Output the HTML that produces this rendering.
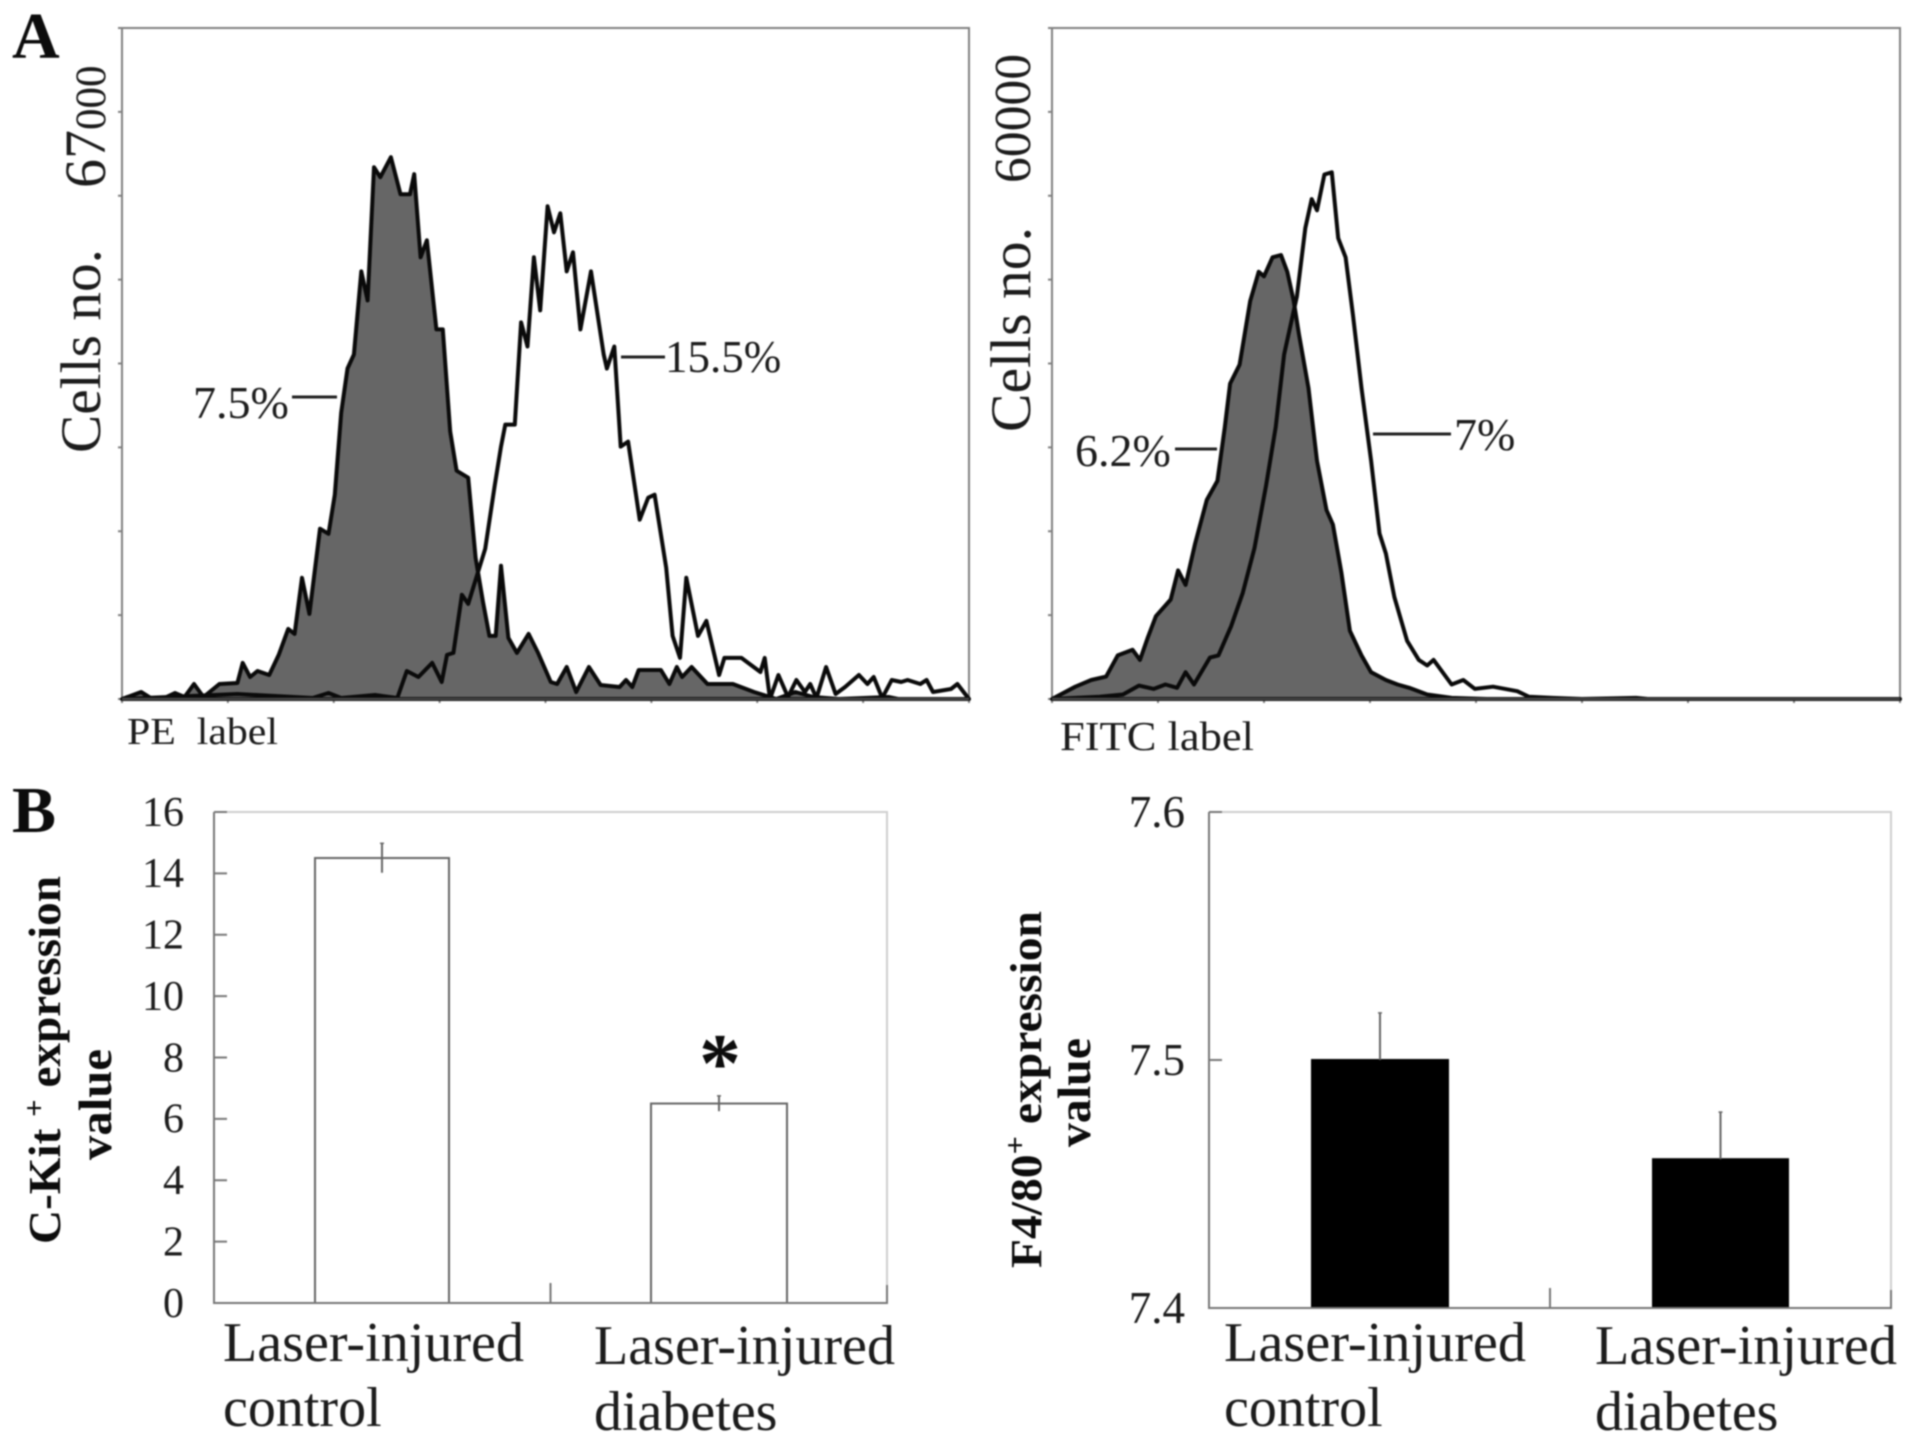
<!DOCTYPE html>
<html lang="en">
<head>
<meta charset="utf-8">
<title>Flow cytometry histograms and expression bars</title>
<style>
html,body{margin:0;padding:0;background:#fff;}
svg{display:block;filter:blur(0.7px);}
text{font-family:"Liberation Serif",serif;fill:#1c1c1c;white-space:pre;}
.bold{font-weight:bold;fill:#0c0c0c;}
</style>
</head>
<body>
<svg id="figure" xmlns="http://www.w3.org/2000/svg" width="1913" height="1443" viewBox="0 0 1913 1443">
  <rect x="0" y="0" width="1913" height="1443" fill="#fff"/>
  <g id="pe-plot"></g>
  <g id="fitc-plot"></g>
  <g id="ckit-plot"></g>
  <g id="f480-plot"></g>

  <text class="bold" x="12" y="58" font-size="66">A</text>
  <text class="bold" x="12" y="832" font-size="66">B</text>

  <text transform="translate(100,453) rotate(-90)" font-size="57" textLength="204" lengthAdjust="spacingAndGlyphs">Cells no.</text>
  <text transform="translate(105,188) rotate(-90)" font-size="58">67<tspan font-size="43">000</tspan></text>
  <text x="127" y="744" font-size="38" textLength="151" lengthAdjust="spacingAndGlyphs">PE  label</text>
  <text x="193" y="418" font-size="46">7.5%</text>
  <text x="665" y="372" font-size="45">15.5%</text>

  <text transform="translate(1030,432) rotate(-90)" font-size="57" textLength="205" lengthAdjust="spacingAndGlyphs">Cells no.</text>
  <text transform="translate(1030,183) rotate(-90)" font-size="52" textLength="129" lengthAdjust="spacingAndGlyphs">60000</text>
  <text x="1060" y="750" font-size="41" textLength="194" lengthAdjust="spacingAndGlyphs">FITC label</text>
  <text x="1075" y="466" font-size="46">6.2%</text>
  <text x="1454" y="450" font-size="46">7%</text>

  <text class="bold" transform="translate(60,1244) rotate(-90)" font-size="46" textLength="368" lengthAdjust="spacingAndGlyphs">C-Kit <tspan font-size="30" dy="-16">+</tspan><tspan dy="16"> expression</tspan></text>
  <text class="bold" transform="translate(111,1160) rotate(-90)" font-size="47" textLength="111" lengthAdjust="spacingAndGlyphs">value</text>
  <text class="bold" x="699" y="1091" font-size="84">*</text>
  <text font-size="56"><tspan x="223" y="1361" textLength="301" lengthAdjust="spacingAndGlyphs">Laser-injured</tspan><tspan x="223" y="1426">control</tspan></text>
  <text font-size="56"><tspan x="594" y="1364" textLength="301" lengthAdjust="spacingAndGlyphs">Laser-injured</tspan><tspan x="594" y="1430">diabetes</tspan></text>

  <text class="bold" transform="translate(1041,1268) rotate(-90)" font-size="44" textLength="357" lengthAdjust="spacingAndGlyphs">F4/80<tspan font-size="30" dy="-16">+</tspan><tspan dy="16"> expression</tspan></text>
  <text class="bold" transform="translate(1090,1147) rotate(-90)" font-size="47" textLength="109" lengthAdjust="spacingAndGlyphs">value</text>
  <text font-size="56"><tspan x="1224" y="1361" textLength="302" lengthAdjust="spacingAndGlyphs">Laser-injured</tspan><tspan x="1224" y="1426">control</tspan></text>
  <text font-size="56"><tspan x="1595" y="1364" textLength="302" lengthAdjust="spacingAndGlyphs">Laser-injured</tspan><tspan x="1595" y="1430">diabetes</tspan></text>
</svg>
<script>
// PE histogram: channel (0-800) and count (thousands)
const peFilledChannels = [0,18,27,38,50,59,68,77,92,109,114,121,128,139,148,157,163,170,177,187,195,201,207,213,219,226,232,238,244,254,263,272,276,282,288,297,303,310,316,327,334,341,347,353,358,365,373,384,393,405,411,420,429,441,452,470,476,482,488,509,517,524,529,538,553,577,597,618,636,653,677,724,733,800];
const peFilledCounts = [0,0.7,0.1,0,0.6,0.2,1.5,0.2,1.5,1.6,3.6,2.2,2.8,2.4,4.4,7.0,6.5,12.1,8.5,17.0,16.5,20.4,28.6,33.0,34.4,42.7,39.8,53.1,52.1,54.1,50.4,50.4,52.4,44.1,45.8,36.9,36.9,26.7,22.8,22.1,14.1,9.7,6.3,6.3,13.3,6.1,4.6,6.5,4.6,1.7,1.5,3.2,0.7,3.2,1.4,1.2,1.9,1.2,2.9,2.9,1.5,3.2,2.2,3.2,1.5,1.5,0.7,0,0.7,0.2,0,0.2,0,0];
const peOpenChannels = [0,109,180,195,207,239,260,269,280,293,302,307,313,321,327,343,352,358,362,371,377,383,389,395,402,408,414,420,426,433,443,455,458,465,471,478,489,497,503,514,520,527,533,544,552,564,569,585,603,607,612,620,629,637,645,650,656,665,674,683,696,704,710,718,727,736,742,754,760,766,783,789,800];
const peOpenCounts = [0,0.5,0.1,0.6,0.1,0.4,0.1,2.8,2.2,3.6,1.7,4.4,4.6,10.4,9.5,15.0,21.3,25.2,27.4,27.4,37.6,35.2,44.1,38.8,49.2,46.6,48.5,42.7,44.6,36.9,42.7,34.4,33.0,35.2,25.2,25.7,17.9,20.1,20.4,13.1,6.3,4.1,12.1,6.3,7.8,2.4,4.1,4.1,2.7,4.1,0,2.4,0.2,1.9,0.7,1.5,0.1,3.2,0.5,1.2,2.4,1.5,2.2,0.1,1.9,1.7,1.9,1.5,1.9,0.7,1.0,1.5,0];

// FITC histogram: channel (0-800) and count (thousands)
const fitcFilledChannels = [0,14,22,37,51,62,76,83,90,98,112,119,126,135,146,156,163,168,177,187,195,200,208,216,222,228,233,242,250,259,265,273,281,292,301,315,326,337,354,377,410,800];
const fitcFilledCounts = [0,0.7,1.1,1.7,2.0,3.9,4.4,3.5,5.4,7.4,8.9,11.5,10.2,13.9,17.8,19.5,24.3,28.2,29.9,35.6,38.2,37.8,39.5,39.7,38.2,35.6,32.6,27.8,21.3,16.9,15.6,11.3,6.1,3.9,2.4,1.7,1.3,1.0,0.4,0.1,0,0];
const fitcOpenChannels = [0,45,67,82,96,107,118,126,134,149,157,169,180,191,202,211,219,231,239,245,250,257,264,270,277,284,292,301,309,315,323,335,346,354,360,377,388,399,416,439,450,472,500,551,562,800];
const fitcOpenCounts = [0,0.2,0.4,1.2,0.9,1.3,1.0,2.4,1.3,3.7,3.9,6.5,9.5,13.5,19.1,24.3,30.8,36.0,42.1,44.7,43.7,46.9,47.1,41.2,39.5,34.3,27.8,21.3,14.8,13.0,9.1,5.2,3.5,3.0,3.5,1.3,1.7,0.9,1.1,0.7,0.2,0.1,0,0.1,0,0];

// Bar chart values
const ckitTickValues = [0,2,4,6,8,10,12,14,16];
const ckitMeans = [14.5,6.5];
const ckitErrors = [0.48,0.25];
const f480TickLabels = ["7.4","7.5","7.6"];
const f480TickValues = [7.4,7.5,7.6];
const f480Means = [7.5,7.46];
const f480Errors = [0.019,0.019];

const NS = 'http://www.w3.org/2000/svg';
function linearScale(d0, d1, r0, r1) {
  return function (v) { return r0 + (v - d0) / (d1 - d0) * (r1 - r0); };
}
function make(parent, tag, attrs) {
  const el = document.createElementNS(NS, tag);
  for (const k in attrs) el.setAttribute(k, attrs[k]);
  parent.appendChild(el);
  return el;
}
function toPoints(channels, counts, sx, sy) {
  return channels.map(function (c, i) { return sx(c).toFixed(1) + ',' + sy(counts[i]).toFixed(1); }).join(' ');
}

function drawHistogram(id, frame, yMax, filledX, filledY, openX, openY) {
  const g = document.getElementById(id);
  const sx = linearScale(0, 800, frame.l, frame.r);
  const sy = linearScale(0, yMax, frame.b, frame.t);

  const fr = make(g, 'rect', {x: frame.l, y: frame.t, width: frame.r - frame.l, height: frame.b - frame.t, fill: 'none', stroke: '#808080', 'stroke-width': 2});
  
  

  for (let i = 0; i <= 8; i++) {
    const tx = make(g, 'line', {x1: sx(i * 100), x2: sx(i * 100), y1: frame.b, y2: frame.b + 4, stroke: '#808080', 'stroke-width': 2});
    
    
    const ty = make(g, 'line', {x1: frame.l - 4, x2: frame.l, y1: sy(yMax * i / 8), y2: sy(yMax * i / 8), stroke: '#808080', 'stroke-width': 2});
    
    
  }

  const filled = make(g, 'polygon', {points: toPoints(filledX, filledY, sx, sy), fill: '#666666', stroke: '#0a0a0a', 'stroke-width': 4, 'stroke-linejoin': 'round'});
  
  

  const open = make(g, 'polyline', {points: toPoints(openX, openY, sx, sy), fill: 'none', stroke: '#0a0a0a', 'stroke-width': 4, 'stroke-linejoin': 'round'});
  
  

  const base = make(g, 'line', {x1: frame.l, x2: frame.r, y1: frame.b, y2: frame.b, stroke: '#444', 'stroke-width': 2.5});
  
  
}

drawHistogram('pe-plot', {l: 122, r: 969, t: 28, b: 699}, 67, peFilledChannels, peFilledCounts, peOpenChannels, peOpenCounts);
drawHistogram('fitc-plot', {l: 1052, r: 1900, t: 28, b: 699}, 60, fitcFilledChannels, fitcFilledCounts, fitcOpenChannels, fitcOpenCounts);

function drawLeader(id, x1, x2, y) {
  const g = document.getElementById(id);
  const l = make(g, 'line', {x1: x1, x2: x2, y1: y, y2: y, stroke: '#222', 'stroke-width': 3});
  
  
}
drawLeader('pe-plot', 292, 337, 397);
drawLeader('pe-plot', 621, 665, 357);
drawLeader('fitc-plot', 1175, 1217, 449);
drawLeader('fitc-plot', 1373, 1451, 434);

function drawBars(id, frame, domain, tickValues, tickLabels, fontSize, labelRight, means, errors, barSpans, fill, errLower) {
  const g = document.getElementById(id);
  const sy = linearScale(domain[0], domain[1], frame.b, frame.t);

  const top = make(g, 'path', {d: 'M' + frame.l + ' ' + frame.t + 'H' + frame.r + 'V' + frame.b, fill: 'none', stroke: '#cfcfcf', 'stroke-width': 2});
  
  

  tickValues.forEach(function (v, i) {
    const t = make(g, 'line', {x1: frame.l, x2: frame.l + 13, y1: sy(v), y2: sy(v), stroke: '#777', 'stroke-width': 2});
    
    
    const lab = make(g, 'text', {x: labelRight, y: sy(v) + fontSize * 0.33, 'font-size': fontSize, 'text-anchor': 'end'});
    lab.textContent = tickLabels[i];
    
    
  });

  means.forEach(function (m, i) {
    const s = barSpans[i];
    const cx = (s[0] + s[1]) / 2;
    const y = sy(m);
    const bar = make(g, 'rect', {x: s[0], y: y, width: s[1] - s[0], height: frame.b - y, fill: fill, stroke: fill === '#000' ? '#000' : '#666', 'stroke-width': 2});
    
    
    const yBottom = errLower ? sy(m - errors[i]) : y;
    const err = make(g, 'line', {x1: cx, x2: cx, y1: sy(m + errors[i]), y2: yBottom, stroke: '#666', 'stroke-width': 2});
    
    
    const capT = make(g, 'line', {x1: cx - 2, x2: cx + 2, y1: sy(m + errors[i]), y2: sy(m + errors[i]), stroke: '#666', 'stroke-width': 1.5});
    
    
  });

  const axes = make(g, 'path', {d: 'M' + frame.l + ' ' + frame.t + 'V' + frame.b + 'H' + frame.r + 'V' + (frame.b - 18) + 'M' + ((frame.l + frame.r) / 2) + ' ' + frame.b + 'V' + (frame.b - 20), fill: 'none', stroke: '#777', 'stroke-width': 2});
  
  
}

drawBars('ckit-plot', {l: 214, r: 887, t: 812, b: 1303}, [0, 16], ckitTickValues, ckitTickValues.map(String), 42, 184, ckitMeans, ckitErrors, [[315, 449], [651, 787]], '#fff', true);
drawBars('f480-plot', {l: 1209, r: 1891, t: 812, b: 1308}, [7.4, 7.6], f480TickValues, f480TickLabels, 45, 1185, f480Means, f480Errors, [[1312, 1448], [1653, 1788]], '#000', false);
</script>
</body>
</html>
